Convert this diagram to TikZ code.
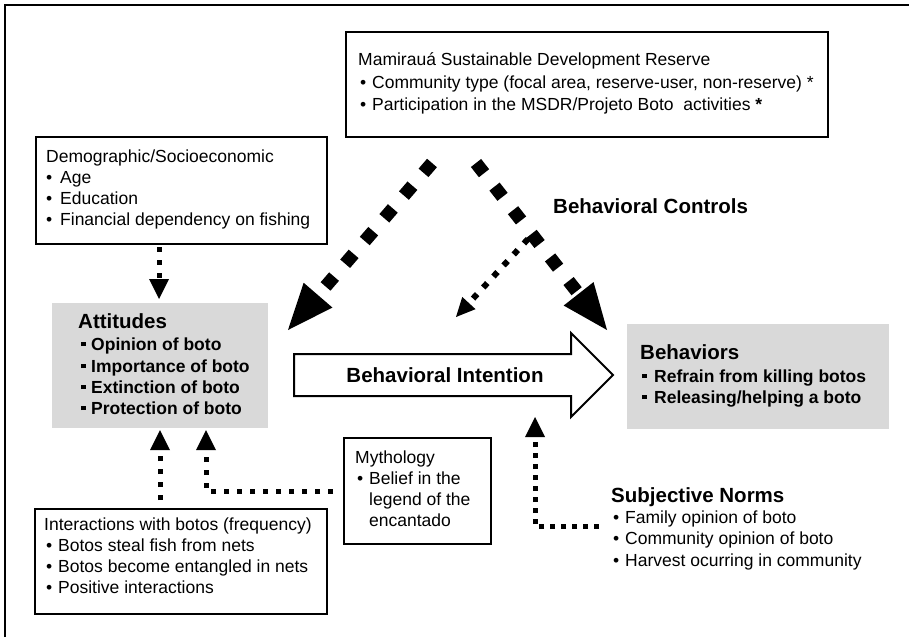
\documentclass[tikz,border=0pt]{standalone}
\usepackage{fontspec}
\setmainfont{Liberation Sans}
\usetikzlibrary{arrows.meta}
\definecolor{graybg}{HTML}{D9D9D9}
\newcommand\bdot[1][12pt]{\makebox[#1][l]{•}}
\newcommand\sqb[1][10pt]{\makebox[#1][l]{\raisebox{4pt}{\rule{4.5pt}{4.5pt}}}}
\tikzset{
  box/.style={draw, line width=2pt, inner sep=0pt, anchor=north west},
  graybox/.style={fill=graybg, inner sep=0pt, anchor=north west},
  txt/.style={anchor=base west, inner sep=0pt, font=\fontsize{17.5}{21}\selectfont},
  btxt/.style={anchor=base west, inner sep=0pt, font=\fontsize{17.5}{21}\selectfont\bfseries},
  ttl/.style={anchor=base west, inner sep=0pt, font=\fontsize{20.5}{24}\selectfont\bfseries},
  bigdash/.style={line width=13pt, dash pattern=on 13pt off 17pt,
    -{Triangle[length=46pt,width=38pt,line width=0pt]}},
  smalldot/.style={line width=6pt, dash pattern=on 6pt off 9pt,
    -{Triangle[length=19pt,width=18pt,line width=0pt]}},
  vdot/.style={line width=5pt, dash pattern=on 5pt off 8pt,
    -{Triangle[length=20pt,width=20pt,line width=0pt]}},
  sdot/.style={line width=5pt, dash pattern=on 5pt off 6pt,
    -{Triangle[length=20pt,width=20pt,line width=0pt]}},
}
\begin{document}
\begin{tikzpicture}[x=1pt,y=-1pt]
\useasboundingbox (0,0) rectangle (909,637);
% outer frame (only top and left visible)
\draw[line width=2.5pt] (5,637) -- (5,5) -- (909,5);

% boxes
\node[box, minimum width=482pt, minimum height=105pt] (msdr) at (345,31) {};
\node[box, minimum width=291pt, minimum height=107pt] (demo) at (35,136) {};
\node[graybox, minimum width=216pt, minimum height=125pt] (att) at (52,303) {};
\node[graybox, minimum width=262pt, minimum height=105pt] (beh) at (627,324) {};
\node[box, minimum width=147pt, minimum height=106pt] (myth) at (343,437) {};
\node[box, minimum width=292pt, minimum height=105pt] (inter) at (34,508) {};

% Mamiraua texts
\node[txt] (msdrT) at (358,65) {Mamirauá Sustainable Development Reserve};
\node[txt] (msdr1) at (360,88) {\bdot[12pt]Community type (focal area, reserve-user, non-reserve) *};
\node[txt] (msdr2) at (360,110) {\bdot[12pt]Participation in the MSDR/Projeto Boto\ \ activities \textbf{*}};

% Demographic texts
\node[txt] (demoT) at (46,162) {Demographic/Socioeconomic};
\node[txt] (demo1) at (46,183) {\bdot[14pt]Age};
\node[txt] (demo2) at (46,204) {\bdot[14pt]Education};
\node[txt] (demo3) at (46,225) {\bdot[14pt]Financial dependency on fishing};

% Attitudes texts
\node[ttl] (attT) at (78,328) {Attitudes};
\node[btxt] (att1) at (81,350) {\sqb Opinion of boto};
\node[btxt] (att2) at (81,372) {\sqb Importance of boto};
\node[btxt] (att3) at (81,393) {\sqb Extinction of boto};
\node[btxt] (att4) at (81,414) {\sqb Protection of boto};

% Behaviors texts
\node[ttl] (behT) at (640,359) {Behaviors};
\node[btxt] (beh1) at (642,382) {\sqb[12pt]Refrain from killing botos};
\node[btxt] (beh2) at (642,403) {\sqb[12pt]Releasing/helping a boto};

% Mythology texts
\node[txt] (mythT) at (355,463) {Mythology};
\node[txt] (myth1) at (357,484) {\bdot[12pt]Belief in the};
\node[txt] (myth2) at (369,505) {legend of the};
\node[txt] (myth3) at (369,526) {encantado};

% Interactions texts
\node[txt] (interT) at (44,530) {Interactions with botos (frequency)};
\node[txt] (inter1) at (46,551) {\bdot[12pt]Botos steal fish from nets};
\node[txt] (inter2) at (46,572) {\bdot[12pt]Botos become entangled in nets};
\node[txt] (inter3) at (46,593) {\bdot[12pt]Positive interactions};

% Subjective norms
\node[ttl] (subT) at (611,502) {Subjective Norms};
\node[txt] (sub1) at (613,523) {\bdot[12pt]Family opinion of boto};
\node[txt] (sub2) at (613,544) {\bdot[12pt]Community opinion of boto};
\node[txt] (sub3) at (613,566) {\bdot[12pt]Harvest ocurring in community};

% Behavioral controls label
\node[ttl] (bc) at (553,213) {Behavioral Controls};

% Behavioral intention block arrow
\draw[line width=2pt, fill=white, line join=miter]
  (294,354) -- (571,354) -- (571,333) -- (613,375) -- (571,417) -- (571,396) -- (294,396) -- cycle;
\node[ttl, anchor=base] (bi) at (445,382) {Behavioral Intention};

% connector end points
\coordinate (mL) at (432,163);
\coordinate (attTip) at (288,330);
\coordinate (mR) at (476,163);
\coordinate (behTip) at (607,330);
\coordinate (bcS) at (528,239);
\coordinate (biTip) at (456,317);
\coordinate (demoS) at (159,247);
\coordinate (attN) at (159,299);
\coordinate (interN) at (160,500);
\coordinate (attS1) at (160,430);
\coordinate (mythW) at (333,491);
\coordinate (attS2) at (206,430);
\coordinate (subW) at (599,526);
\coordinate (biS) at (535,417);

% connectors
\draw[bigdash] (mL) -- (attTip);
\draw[bigdash] (mR) -- (behTip);
\draw[smalldot] (bcS) -- (biTip);
\draw[vdot] (demoS) -- (attN);
\draw[vdot] (interN) -- (attS1);
\draw[vdot] (mythW) -| (attS2);
\draw[sdot] (subW) -| (biS);
\end{tikzpicture}
\end{document}
